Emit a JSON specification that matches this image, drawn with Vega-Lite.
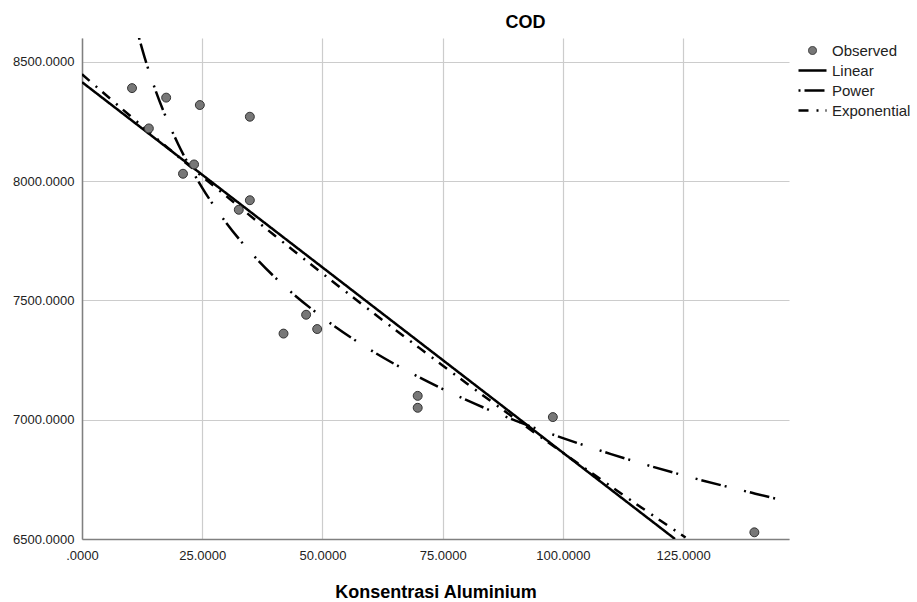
{
  "$schema": "https://vega.github.io/schema/vega-lite/v6.json",
  "width": 707,
  "height": 501,
  "autosize": {"type": "none"},
  "padding": {"left": 82, "top": 38, "right": 128, "bottom": 63},
  "background": "white",
  "title": {"text": "COD", "fontSize": 18, "fontWeight": "bold", "font": "Liberation Sans", "color": "#000", "anchor": "middle", "frame": "group", "dx": 90, "dy": 18, "offset": 10, "baseline": "alphabetic"},
  "config": {
    "font": "Liberation Sans",
    "view": {"stroke": null},
    "axis": {"labelFont": "Liberation Sans", "labelFontSize": 13, "labelColor": "#222", "gridColor": "#cccccc", "gridWidth": 1.2, "domainColor": "#808080", "domainWidth": 1.5, "ticks": false}
  },
  "layer": [
    {
      "data": {"values": [
        {"fit": "Linear", "x": 0, "y": 8415},
        {"fit": "Linear", "x": 123.3, "y": 6500},
        {"fit": "Exponential", "x": 0, "y": 8448},
        {"fit": "Exponential", "x": 10, "y": 8274},
        {"fit": "Exponential", "x": 20, "y": 8103},
        {"fit": "Exponential", "x": 30, "y": 7937},
        {"fit": "Exponential", "x": 40, "y": 7773},
        {"fit": "Exponential", "x": 50, "y": 7613},
        {"fit": "Exponential", "x": 60, "y": 7456},
        {"fit": "Exponential", "x": 70, "y": 7303},
        {"fit": "Exponential", "x": 80, "y": 7152},
        {"fit": "Exponential", "x": 90, "y": 7005},
        {"fit": "Exponential", "x": 100, "y": 6861},
        {"fit": "Exponential", "x": 110, "y": 6720},
        {"fit": "Exponential", "x": 120, "y": 6581},
        {"fit": "Exponential", "x": 125.5, "y": 6506},
        {"fit": "Power", "x": 11.85, "y": 8601},
        {"fit": "Power", "x": 13, "y": 8520},
        {"fit": "Power", "x": 15, "y": 8397},
        {"fit": "Power", "x": 17.5, "y": 8266},
        {"fit": "Power", "x": 20, "y": 8155},
        {"fit": "Power", "x": 25, "y": 7972},
        {"fit": "Power", "x": 30, "y": 7825},
        {"fit": "Power", "x": 35, "y": 7703},
        {"fit": "Power", "x": 40, "y": 7599},
        {"fit": "Power", "x": 50, "y": 7429},
        {"fit": "Power", "x": 60, "y": 7292},
        {"fit": "Power", "x": 70, "y": 7179},
        {"fit": "Power", "x": 80, "y": 7082},
        {"fit": "Power", "x": 90, "y": 6997},
        {"fit": "Power", "x": 100, "y": 6923},
        {"fit": "Power", "x": 110, "y": 6856},
        {"fit": "Power", "x": 125, "y": 6767},
        {"fit": "Power", "x": 140, "y": 6690},
        {"fit": "Power", "x": 147, "y": 6656}
      ]},
      "mark": {"type": "line", "color": "#000000", "strokeWidth": 2.5, "clip": true, "interpolate": "monotone"},
      "encoding": {
        "x": {"field": "x", "type": "quantitative", "scale": {"domain": [0, 147], "nice": false, "zero": false},
          "axis": {"values": [0, 25, 50, 75, 100, 125], "labelExpr": "datum.value == 0 ? '.0000' : format(datum.value, '.4f')", "labelPadding": 10, "title": "Konsentrasi Aluminium", "titleFontSize": 18, "titleFontWeight": "bold", "titleColor": "#000", "titlePadding": 21, "labelFlush": false}},
        "y": {"field": "y", "type": "quantitative", "scale": {"domain": [6500, 8600], "nice": false, "zero": false},
          "axis": {"values": [6500, 7000, 7500, 8000, 8500], "format": ".4f", "labelPadding": 8, "title": null, "labelFlush": false}},
        "strokeDash": {"field": "fit", "type": "nominal",
          "scale": {"domain": ["Observed", "Linear", "Power", "Exponential"], "range": [[1, 0], [1, 0], [2, 4, 20, 4, 2, 18], [10, 8, 2, 7]]},
          "legend": {"title": null, "orient": "right", "offset": 11, "padding": 5, "labelFontSize": 15, "labelColor": "#222", "symbolSize": 784, "symbolStrokeWidth": 2.5, "symbolStrokeColor": "#000", "rowPadding": 4, "labelOffset": 12,
            "encode": {"symbols": {"update": {
              "shape": {"signal": "datum.value === 'Observed' ? 'circle' : 'stroke'"},
              "size": {"signal": "datum.value === 'Observed' ? 64 : 784"},
              "fill": {"signal": "datum.value === 'Observed' ? '#777777' : 'transparent'"},
              "stroke": {"signal": "datum.value === 'Observed' ? '#333333' : '#000000'"},
              "strokeWidth": {"signal": "datum.value === 'Observed' ? 1 : 2.5"}
            }}}}
        },
        "detail": {"field": "fit", "type": "nominal"}
      }
    },
    {
      "data": {"values": [
        {"x": 10.4, "y": 8390},
        {"x": 17.5, "y": 8350},
        {"x": 24.5, "y": 8319},
        {"x": 34.9, "y": 8270},
        {"x": 13.9, "y": 8221},
        {"x": 23.3, "y": 8070},
        {"x": 21.0, "y": 8031},
        {"x": 34.9, "y": 7920},
        {"x": 32.6, "y": 7880},
        {"x": 46.6, "y": 7440},
        {"x": 48.9, "y": 7380},
        {"x": 41.9, "y": 7361},
        {"x": 69.8, "y": 7100},
        {"x": 69.8, "y": 7050},
        {"x": 97.9, "y": 7011},
        {"x": 139.8, "y": 6528}
      ]},
      "mark": {"type": "point", "filled": true, "fill": "#777777", "stroke": "#333333", "strokeWidth": 1, "size": 80, "opacity": 1},
      "encoding": {
        "x": {"field": "x", "type": "quantitative"},
        "y": {"field": "y", "type": "quantitative"}
      }
    }
  ]
}
